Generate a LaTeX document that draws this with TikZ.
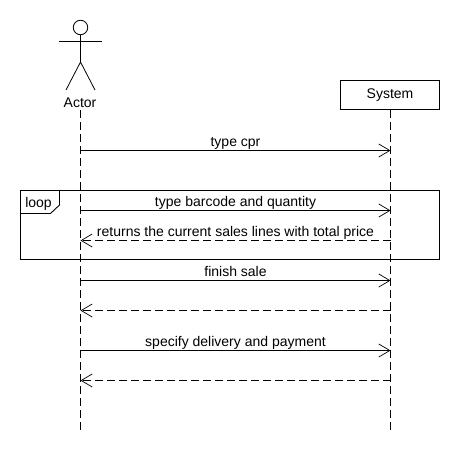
\documentclass[tikz,border=0pt]{standalone}
\usepackage{fontspec}
\setmainfont{Liberation Sans}
\usetikzlibrary{arrows.meta}
\tikzset{
    lifeline/.style={line width=0.9pt, dash pattern=on 8pt off 4pt},
    callmsg/.style={line width=0.9pt, -{Straight Barb[length=11pt,width=13pt,line width=0.7pt]}},
    replymsg/.style={line width=0.9pt, dash pattern=on 8pt off 4pt, -{Straight Barb[length=11pt,width=13pt,line width=0.7pt]}},
    msglabel/.style={inner sep=0pt, text height=10pt, text depth=3pt, font=\fontsize{14}{15}\selectfont},
    framebox/.style={draw, line width=0.9pt, inner sep=0pt}
}
\begin{document}
\begin{tikzpicture}[x=1pt, y=-1pt]
\useasboundingbox (0,0) rectangle (460,470);

% Actor
\node[draw, circle, line width=0.8pt, minimum size=14.5pt, inner sep=0pt] (head) at (80.5,27.5) {};
\coordinate (neck) at (80.5,62);
\coordinate (handl) at (59,41);
\coordinate (handr) at (102,41);
\coordinate (footl) at (66,90);
\coordinate (footr) at (95,90);
\draw[line width=0.8pt] (head) -- (neck);
\draw[line width=0.8pt] (handl) -- (handr);
\draw[line width=0.8pt] (footl) -- (neck) -- (footr);
\node[msglabel] (actor) at (80,104.5) {Actor};

% System box
\node[framebox, minimum width=99pt, minimum height=29pt] (system) at (390,95) {};
\node[msglabel] (systemlabel) at (390,94.8) {System};

% Lifelines
\coordinate (actorstart) at (80.5,110);
\coordinate (actorend) at (80.5,430);
\coordinate (systemend) at (390.5,430);
\draw[lifeline] (actorstart) -- (actorend);
\draw[lifeline] (system.south -| systemend) -- (systemend);

% Loop frame
\node[framebox, minimum width=419pt, minimum height=69pt] (loopframe) at (230,225) {};
\coordinate (tabtop) at (59.5,190.5);
\coordinate (tabcut) at (59.5,205);
\coordinate (tabbot) at (50.5,213.5);
\coordinate (tableft) at (20.5,213.5);
\draw[line width=0.9pt] (tabtop) -- (tabcut) -- (tabbot) -- (tableft);
\node[msglabel] (looplabel) at (38.5,204.2) {loop};

% Messages
\foreach \name/\y in {cpr/150.5, barcode/210.5, lines/240.5, finish/280.5, saleback/310.5, payment/350.5, payback/380.5} {
    \coordinate (a\name) at (80.5,\y);
    \coordinate (s\name) at (390.5,\y);
}
\draw[callmsg] (acpr) -- node[msglabel, above=1pt] (lblcpr) {type cpr} (scpr);
\draw[callmsg] (abarcode) -- node[msglabel, above=1pt] (lblbarcode) {type barcode and quantity} (sbarcode);
\draw[replymsg] (slines) -- node[msglabel, above=1pt] (lbllines) {returns the current sales lines with total price} (alines);
\draw[callmsg] (afinish) -- node[msglabel, above=1pt] (lblfinish) {finish sale} (sfinish);
\draw[replymsg] (ssaleback) -- (asaleback);
\draw[callmsg] (apayment) -- node[msglabel, above=1pt] (lblpayment) {specify delivery and payment} (spayment);
\draw[replymsg] (spayback) -- (apayback);

\end{tikzpicture}
\end{document}
